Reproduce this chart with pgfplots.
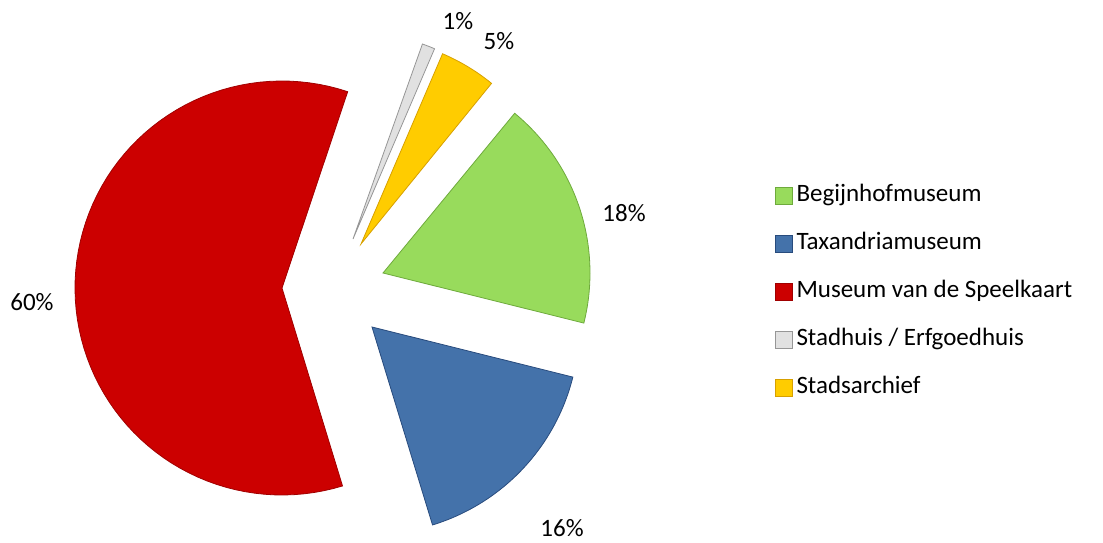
\documentclass[border=0pt]{standalone}
\usepackage{fontspec}
\setmainfont{Carlito}
\usepackage{pgfplots}
\pgfplotsset{compat=1.18}
\definecolor{cGreen}{RGB}{152,219,92}
\definecolor{cGreenD}{RGB}{110,170,60}
\definecolor{cBlue}{RGB}{68,114,170}
\definecolor{cBlueD}{RGB}{40,75,125}
\definecolor{cRed}{RGB}{204,0,0}
\definecolor{cRedD}{RGB}{160,0,0}
\definecolor{cGrey}{RGB}{225,225,225}
\definecolor{cGreyD}{RGB}{150,150,150}
\definecolor{cYellow}{RGB}{255,204,0}
\definecolor{cYellowD}{RGB}{215,160,0}
\begin{document}
\begin{tikzpicture}
\begin{axis}[
  hide axis, scale only axis, width=1103pt, height=542pt,
  xmin=0, xmax=1103, ymin=0, ymax=542, clip=false,
  legend style={draw=none, fill=none, at={(axis cs:772,363)}, anchor=north west,
    font=\fontsize{25}{30}\selectfont, row sep=21pt,
    nodes={inner sep=1pt, text height=19pt, text depth=6pt}},
  legend cell align=left,
  legend image code/.code={\filldraw[#1] (0pt,-10pt) rectangle (17pt,7pt);
    \path (19.5pt,0pt);},
  samples=80, variable=\t,
]
\addplot[draw=none, forget plot] coordinates {(0,0) (1103,542)};
% Begijnhofmuseum 18%
\addplot[fill=cGreen, draw=cGreenD, line width=0.8pt, domain=-14:50.5]
  ({383+207*cos(\t)},{269+207*sin(\t)}) -- (axis cs:383,269) -- cycle;
\addlegendentry{Begijnhofmuseum}
% Taxandriamuseum 16%
\addplot[fill=cBlue, draw=cBlueD, line width=0.8pt, domain=-73:-14]
  ({372+207*cos(\t)},{215+207*sin(\t)}) -- (axis cs:372,215) -- cycle;
\addlegendentry{Taxandriamuseum}
% Museum van de Speelkaart 60%
\addplot[fill=cRed, draw=cRedD, line width=0.8pt, domain=-288.5:-73]
  ({282+207*cos(\t)},{254+207*sin(\t)}) -- (axis cs:282,254) -- cycle;
\addlegendentry{Museum van de Speelkaart}
% Stadhuis / Erfgoedhuis 1%
\addplot[fill=cGrey, draw=cGreyD, line width=0.8pt, domain=66.8:70.4, samples=10]
  ({353+207*cos(\t)},{303+207*sin(\t)}) -- (axis cs:353,303) -- cycle;
\addlegendentry{Stadhuis / Erfgoedhuis}
% Stadsarchief 5%
\addplot[fill=cYellow, draw=cYellowD, line width=0.8pt, domain=50.9:66.8, samples=20]
  ({361+207*cos(\t)},{298+207*sin(\t)}) -- (axis cs:361,298) -- cycle;
\addlegendentry{Stadsarchief}
\begin{scope}[every node/.style={font=\fontsize{25}{30}\selectfont, inner sep=0pt}]
\node at (axis cs:624,329) {18\%};
\node at (axis cs:562,14) {16\%};
\node at (axis cs:32,240) {60\%};
\node at (axis cs:458,521) {1\%};
\node at (axis cs:499,501) {5\%};
\end{scope}
\end{axis}
\end{tikzpicture}
\end{document}
